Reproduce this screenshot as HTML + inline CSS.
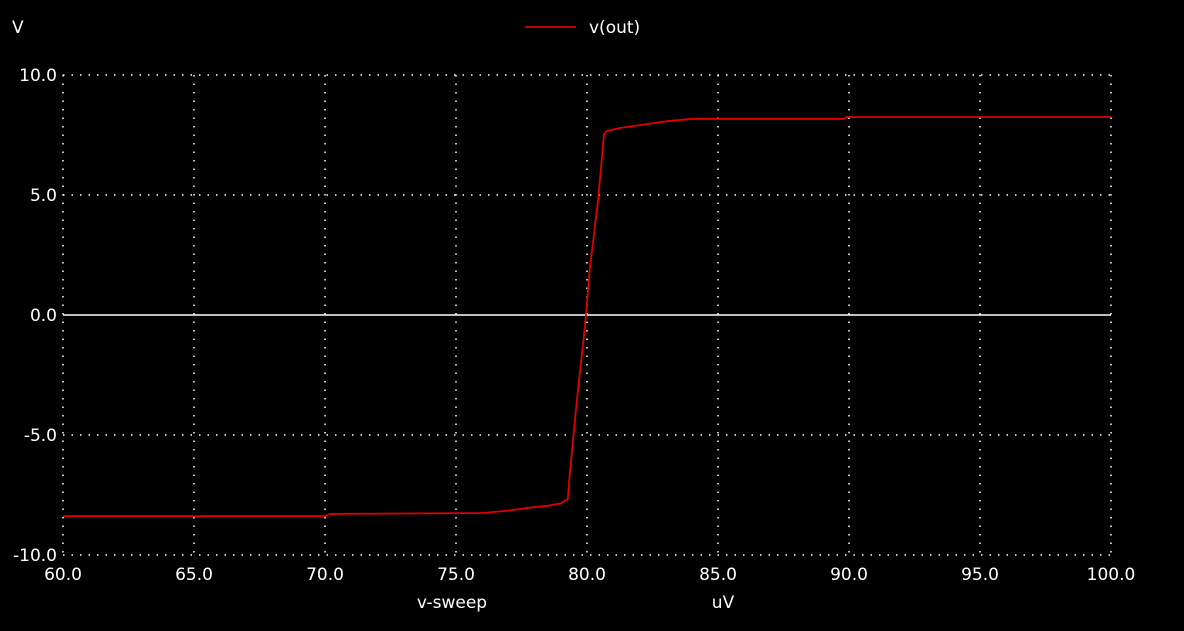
<!DOCTYPE html>
<html><head><meta charset="utf-8"><style>
html,body{margin:0;padding:0;background:#000;width:1184px;height:631px;overflow:hidden}
svg text{font-family:"DejaVu Sans","Liberation Sans",sans-serif;font-size:17px;fill:#fff}
</style></head><body>
<svg id="c" width="1184" height="631"></svg>
<script>
const xTicks=[60,65,70,75,80,85,90,95,100];
const yTicks=[-10,-5,0,5,10];
const sweep=[60,70,70.2,76,77,78,78.5,79,79.27,79.31,79.58,79.89,79.96,80.11,80.42,80.65,80.76,81.26,82.3,83.1,84.0,89.8,89.9,100];
const vout=[-8.38,-8.38,-8.29,-8.25,-8.15,-8.0,-7.95,-7.85,-7.67,-7.04,-3.92,-0.79,0,1.96,4.75,7.54,7.67,7.79,7.96,8.08,8.17,8.17,8.25,8.25];
const X=v=>63+(v-60)*26.2, Y=v=>315-v*24;
const s=document.getElementById('c'),NS='http://www.w3.org/2000/svg';
function mk(t,a,txt){const e=document.createElementNS(NS,t);for(const k in a)e.setAttribute(k,a[k]);if(txt!=null)e.textContent=txt;s.appendChild(e);return e;}
xTicks.forEach(v=>{
 const l=mk('line',{x1:X(v),x2:X(v),y1:75,y2:555,stroke:'#fff','stroke-dasharray':'1.5,7','stroke-width':1.5});
 
 
 const t=mk('text',{x:X(v),y:580,'text-anchor':'middle'},v.toFixed(1));
 
 
});
yTicks.forEach(v=>{
 const l=mk('line',{x1:63,x2:1111,y1:Y(v),y2:Y(v),stroke:'#fff','stroke-width':1.5,'stroke-dasharray':v===0?'none':'1.5,7'});
 
 
 const t=mk('text',{x:57,y:Y(v)+6,'text-anchor':'end'},v.toFixed(1));
 
 
});
const p=mk('polyline',{points:sweep.map((v,i)=>X(v)+','+Y(vout[i])).join(' '),fill:'none',stroke:'#e00000','stroke-width':1.8});


let t=mk('text',{x:12,y:33},'V');
t=mk('text',{x:452,y:608,'text-anchor':'middle'},'v-sweep');
t=mk('text',{x:723,y:608,'text-anchor':'middle'},'uV');
const ll=mk('line',{x1:525,x2:576,y1:27,y2:27,stroke:'#e00000','stroke-width':1.8});
t=mk('text',{x:589,y:33},'v(out)');
</script>
</body></html>
